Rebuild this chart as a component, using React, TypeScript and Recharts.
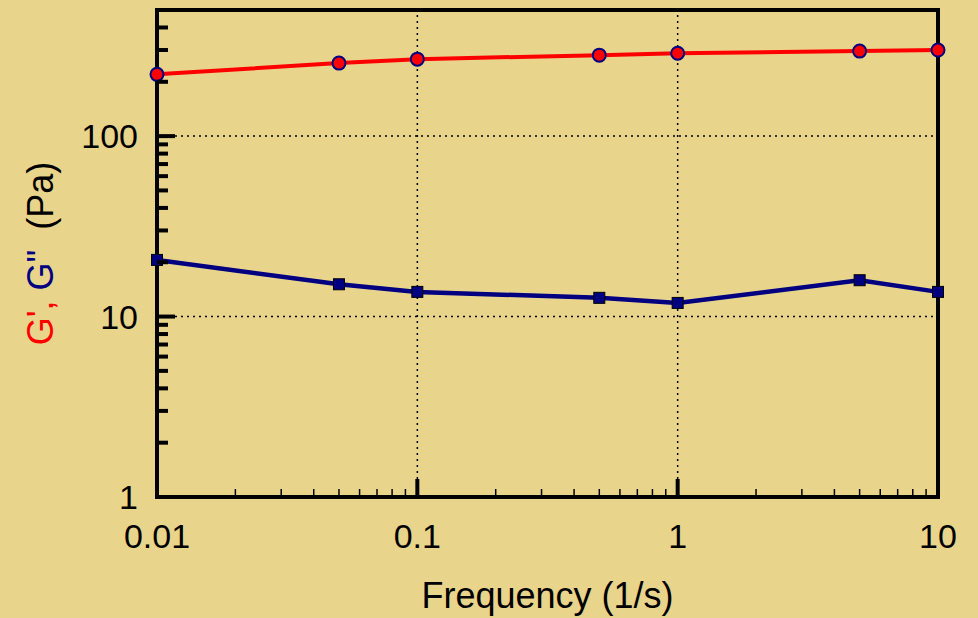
/**
 * Rheology frequency sweep — G' (storage) and G" (loss) modulus vs frequency,
 * log–log, boxed plot with inward ticks and dotted decade grid.
 */
import { LineChart, Line, XAxis, YAxis, ReferenceLine, ReferenceArea, Label } from 'recharts';

// ── Data ──────────────────────────────────────────────────────────────────────

const frequency = [0.01, 0.05, 0.1, 0.5, 1, 5, 10];
const storageModulus = [220, 254, 267, 281, 288, 296, 300];
const lossModulus = [20.6, 15.1, 13.7, 12.7, 11.9, 15.9, 13.7];

const xMajorTicks = [0.01, 0.1, 1, 10];
const xMajorLabels = ['0.01', '0.1', '1', '10'];
const xMinorTicks = [
  0.02, 0.03, 0.04, 0.05, 0.06, 0.07, 0.08, 0.09,
  0.2, 0.3, 0.4, 0.5, 0.6, 0.7, 0.8, 0.9,
  2, 3, 4, 5, 6, 7, 8, 9,
];
const yMajorTicks = [1, 10, 100];
const yMajorLabels = ['1', '10', '100'];
const yMinorTicks = [2, 3, 4, 5, 6, 7, 8, 9, 20, 30, 40, 50, 60, 70, 80, 90, 200, 300, 400];
const xGridLines = [0.1, 1];
const yGridLines = [10, 100];
const xDomain = [0.01, 10];
const yDomain = [1, 500];

const chartData = frequency.map((f, i) => ({ f, gp: storageModulus[i], gpp: lossModulus[i] }));

// ── Style ─────────────────────────────────────────────────────────────────────

const BG = '#E9D48C';
const RED = '#FF0000';
const NAVY = '#000080';
const FONT = '"Liberation Sans", Arial, sans-serif';
const FS = 34;
const TITLE_FS = 36;

const allXTicks = [...xMajorTicks, ...xMinorTicks].sort((a, b) => a - b);
const allYTicks = [...yMajorTicks, ...yMinorTicks].sort((a, b) => a - b);

type Side = 'bottom' | 'top' | 'left' | 'right';

function makeTick(side: Side) {
  return (props: any) => {
    const { x, y, payload } = props;
    const v = payload.value as number;
    const isX = side === 'bottom' || side === 'top';
    const majors = isX ? xMajorTicks : yMajorTicks;
    const mi = majors.indexOf(v);
    const major = mi >= 0;
    let len: number;
    let w: number;
    if (isX) {
      len = major ? 18 : 8;
      w = major ? 4 : 1.5;
    } else {
      len = major ? 18 : 11;
      w = 4;
    }
    const dir = side === 'bottom' || side === 'right' ? -1 : 1;
    const line = isX
      ? <line x1={x} y1={y} x2={x} y2={y + dir * len} stroke="#000" strokeWidth={w} />
      : <line x1={x} y1={y} x2={x + dir * len} y2={y} stroke="#000" strokeWidth={w} />;
    let label = null;
    if (major && side === 'bottom') {
      label = (
        <text x={x} y={y + 51} textAnchor="middle" fontSize={FS} fontFamily={FONT} fill="#000">
          {xMajorLabels[mi]}
        </text>
      );
    } else if (major && side === 'left') {
      label = (
        <text x={x - 19} y={y + 12} textAnchor="end" fontSize={FS} fontFamily={FONT} fill="#000">
          {yMajorLabels[mi]}
        </text>
      );
    }
    return (
      <g>
        {line}
        {label}
      </g>
    );
  };
}

function XTitle(props: any) {
  const { x, y, width } = props.viewBox;
  return (
    <text x={x + width / 2} y={y + 111} textAnchor="middle" fontSize={TITLE_FS} fontFamily={FONT} fill="#000">
      Frequency (1/s)
    </text>
  );
}

function YTitle(props: any) {
  const { y, height } = props.viewBox;
  const cx = 53;
  const cy = y + height / 2;
  return (
    <text
      x={cx}
      y={cy}
      textAnchor="middle"
      fontSize={TITLE_FS}
      fontFamily={FONT}
      transform={`rotate(-90, ${cx}, ${cy})`}
      style={{ whiteSpace: 'pre' }}
    >
      <tspan fill={RED}>G',</tspan>
      <tspan fill={NAVY}> G"</tspan>
      <tspan fill="#000">{'  (Pa)'}</tspan>
    </text>
  );
}

const circleDot = (props: any) => (
  <circle key={`c-${props.index}`} cx={props.cx} cy={props.cy} r={6.5} fill={RED} stroke={NAVY} strokeWidth={2} />
);

const squareDot = (props: any) => (
  <rect
    key={`s-${props.index}`}
    x={props.cx - 5.5}
    y={props.cy - 5.5}
    width={11}
    height={11}
    fill={NAVY}
    stroke="#000"
    strokeWidth={1}
  />
);

export default function App() {
  return (
    <div style={{ position: 'absolute', left: 0, top: 0, width: 978, height: 618, background: BG }}>
      <LineChart width={978} height={618} data={chartData} margin={{ top: 10, right: 0, bottom: 0, left: 0 }}>
        <XAxis
          dataKey="f"
          type="number"
          scale="log"
          domain={xDomain}
          ticks={allXTicks}
          interval={0}
          height={121}
          tickSize={0}
          tickMargin={0}
          axisLine={false}
          tick={makeTick('bottom')}
        >
          <Label content={XTitle} />
        </XAxis>
        <XAxis
          xAxisId="top"
          orientation="top"
          dataKey="f"
          type="number"
          scale="log"
          domain={xDomain}
          ticks={allXTicks}
          interval={0}
          height={0}
          tickSize={0}
          tickMargin={0}
          axisLine={false}
          tick={makeTick('top')}
        />
        <YAxis
          type="number"
          scale="log"
          domain={yDomain}
          ticks={allYTicks}
          interval={0}
          width={157}
          tickSize={0}
          tickMargin={0}
          axisLine={false}
          tick={makeTick('left')}
        >
          <Label content={YTitle} />
        </YAxis>
        <YAxis
          yAxisId="right"
          orientation="right"
          type="number"
          scale="log"
          domain={yDomain}
          ticks={allYTicks}
          interval={0}
          width={40}
          tickSize={0}
          tickMargin={0}
          axisLine={false}
          tick={makeTick('right')}
        />
        {xGridLines.map((v) => (
          <ReferenceLine key={`gx-${v}`} x={v} stroke="#000" strokeWidth={1.5} strokeDasharray="2 4" />
        ))}
        {yGridLines.map((v) => (
          <ReferenceLine key={`gy-${v}`} y={v} stroke="#000" strokeWidth={1.5} strokeDasharray="2 4" />
        ))}
        <ReferenceArea
          x1={xDomain[0]}
          x2={xDomain[1]}
          y1={yDomain[0]}
          y2={yDomain[1]}
          fill="none"
          fillOpacity={0}
          stroke="#000"
          strokeWidth={4}
        />
        <Line
          dataKey="gp"
          stroke={RED}
          strokeWidth={4}
          dot={circleDot}
          activeDot={false}
          isAnimationActive={false}
        />
        <Line
          dataKey="gpp"
          stroke={NAVY}
          strokeWidth={4.5}
          dot={squareDot}
          activeDot={false}
          isAnimationActive={false}
        />
      </LineChart>
    </div>
  );
}
